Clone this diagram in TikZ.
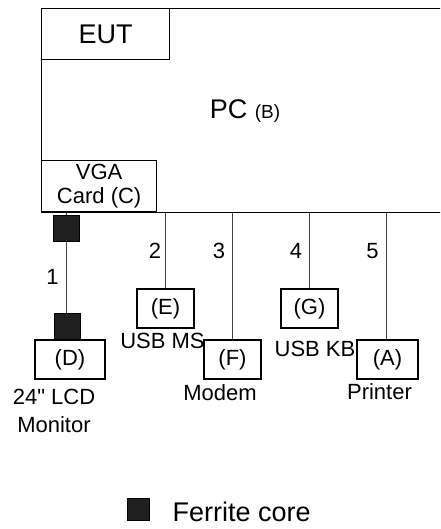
\documentclass[tikz,border=0pt]{standalone}
\usepackage{fontspec}
\setmainfont{Liberation Sans}[Ligatures=TeXOff]
\usetikzlibrary{positioning}

\tikzset{
  unit/.style={draw, line width=1.3pt, inner sep=0pt, font=\fontsize{22}{24}\selectfont},
  core/.style={draw, line width=1pt, fill=black!88, minimum size=26pt, inner sep=0pt},
  cable/.style={line width=0.8pt, black!75},
  num/.style={font=\fontsize{22}{28}\selectfont, inner sep=0pt, text=black},
  big/.style={font=\fontsize{27}{32}\selectfont, inner sep=0pt}
}

\begin{document}
\begin{tikzpicture}[x=1pt,y=-1pt]
  \clip (0,0) rectangle (440,529);

  % Define nodes
  \node[unit, anchor=north west, minimum width=440pt, minimum height=204pt] (pc) at (41,8) {};
  \node[unit, big, anchor=north west, minimum width=128pt, minimum height=51pt] (eut) at (41,8) {EUT};
  \node[big, anchor=base] (pcname) at (245,119) {PC {\fontsize{19}{22}\selectfont (B)}};
  \node[unit, anchor=south west, minimum width=115pt, minimum height=51pt, align=center] (vga) at (41,212) {VGA\\Card (C)};

  \node[unit, minimum width=70pt, minimum height=39pt] (d) at (70,359.5) {(D)};
  \node[unit, minimum width=57pt, minimum height=39pt] (e) at (165.5,308.5) {(E)};
  \node[unit, minimum width=57pt, minimum height=39pt] (f) at (232.5,359.5) {(F)};
  \node[unit, minimum width=57pt, minimum height=39pt] (g) at (309.5,308.5) {(G)};
  \node[unit, minimum width=61pt, minimum height=39pt] (a) at (387.5,359.5) {(A)};

  \node[num, align=center, below=9pt of d, xshift=-16pt] (dname) {24" LCD\\Monitor};
  \node[num, below=4pt of e, xshift=-3pt] (ename) {USB MS};
  \node[num, below=5pt of f, xshift=-12.5pt] (fname) {Modem};
  \node[num, below=12pt of g, xshift=5.5pt] (gname) {USB KB};
  \node[num, below=4pt of a, xshift=-8pt] (aname) {Printer};

  \node[core] (fc1) at (66,228) {};
  \node[core] (fc2) at (67.5,326) {};

  % Draw cables with numbers beside them
  \draw[cable] (fc1.north) -- (fc1.north |- pc.south);
  \draw[cable] (fc1.south) -- node[num, left=7pt] {1} (fc1.south |- fc2.north);
  \draw[cable] (e.north |- pc.south) -- node[num, pos=0.5, left=4pt] {2} (e.north);
  \draw[cable] (f.north |- pc.south) -- node[num, pos=0.3, left=7pt] {3} (f.north);
  \draw[cable] (g.north |- pc.south) -- node[num, pos=0.5, left=7pt] {4} (g.north);
  \draw[cable] ([xshift=-1.5pt]a.north |- pc.south) -- node[num, pos=0.3, left=7pt] {5} ([xshift=-1.5pt]a.north);

  % Legend
  \node[core, minimum size=22pt] (legend) at (138,509) {};
  \node[big, right=23pt of legend, yshift=-3pt] (legendtext) {Ferrite core};
\end{tikzpicture}
\end{document}
